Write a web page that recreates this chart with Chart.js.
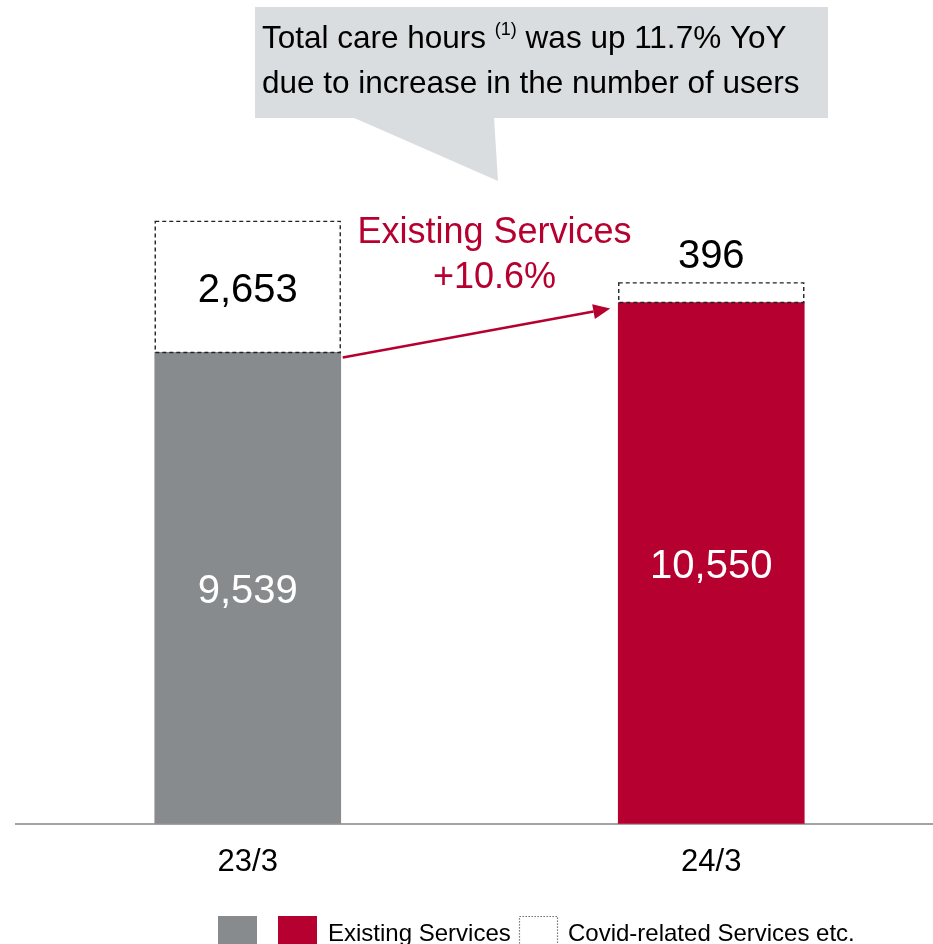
<!DOCTYPE html>
<html><head><meta charset="utf-8">
<script src="https://cdn.jsdelivr.net/npm/chart.js@4.4.1/dist/chart.umd.min.js"></script>
<style>
html,body{margin:0;padding:0;overflow:hidden;background:#fff;width:933px;height:944px}
#wrap{position:relative;width:950px;height:944px}
</style></head><body>
<div id="wrap"><canvas id="c" width="950" height="944"></canvas></div>
<script>
// ---- data ----
const categories = ['23/3', '24/3'];
const existingValues = [9539, 10550];
const covidValues = [2653, 396];
const seriesNames = ['Existing Services', 'Covid-related Services etc.'];
const growthText = ['Existing Services', '+10.6%'];
const calloutLine1 = ['Total care hours ', '(1)', ' was up 11.7% YoY'];
const calloutLine2 = 'due to increase in the number of users';

// ---- styles ----
const FONT = '"Liberation Sans", Arial, Helvetica, sans-serif';
const GRAY = '#888b8d';
const RED = '#b60030';
const CALLOUT = '#dadddf';

function fmt(v) { return v.toLocaleString('en-US'); }

const decor = {
  id: 'decor',
  afterDatasetsDraw(chart) {
    const ctx = chart.ctx;
    const m0 = chart.getDatasetMeta(0).data;
    const m1 = chart.getDatasetMeta(1).data;
    ctx.save();
    // dashed covid boxes
    ctx.strokeStyle = '#222';
    ctx.lineWidth = 1.4;
    ctx.setLineDash([4, 3]);
    m1.forEach(el => {
      const l = el.x - el.width / 2, t = el.y, h = el.base - el.y;
      ctx.strokeRect(l + 0.5, t, el.width - 1, h);
    });
    ctx.setLineDash([]);
    // data labels
    ctx.textAlign = 'center';
    ctx.textBaseline = 'alphabetic';
    ctx.font = '40px ' + FONT;
    m0.forEach((el, i) => {
      ctx.fillStyle = '#fff';
      ctx.fillText(fmt(existingValues[i]), el.x, (el.y + el.base) / 2 + 15);
    });
    m1.forEach((el, i) => {
      ctx.fillStyle = '#000';
      const h = el.base - el.y;
      if (h > 60) ctx.fillText(fmt(covidValues[i]), el.x, (el.y + el.base) / 2 + 15);
      else ctx.fillText(fmt(covidValues[i]), el.x, el.y - 15);
    });
    // arrow
    const a = m0[0], b = m0[1];
    const sx = a.x + a.width / 2 + 2, sy = a.y + 5;
    const ex = b.x - b.width / 2 - 8, ey = b.y + 6;
    const ang = Math.atan2(ey - sy, ex - sx);
    const hl = 17, hw = 7.5;
    const bx = ex - hl * Math.cos(ang), by = ey - hl * Math.sin(ang);
    ctx.strokeStyle = RED; ctx.fillStyle = RED; ctx.lineWidth = 2.5;
    ctx.beginPath(); ctx.moveTo(sx, sy); ctx.lineTo(bx, by); ctx.stroke();
    ctx.beginPath();
    ctx.moveTo(ex, ey);
    ctx.lineTo(bx + hw * Math.sin(ang), by - hw * Math.cos(ang));
    ctx.lineTo(bx - hw * Math.sin(ang), by + hw * Math.cos(ang));
    ctx.closePath(); ctx.fill();
    // growth text
    ctx.font = '36px ' + FONT;
    ctx.fillStyle = RED;
    const gx = (a.x + b.x) / 2 + 15;
    ctx.fillText(growthText[0], gx, 243);
    ctx.fillText(growthText[1], gx, 288);
    // callout
    ctx.fillStyle = CALLOUT;
    ctx.fillRect(255, 7, 573, 111);
    ctx.beginPath();
    ctx.moveTo(352, 117); ctx.lineTo(494, 117); ctx.lineTo(498, 181); ctx.closePath();
    ctx.fill();
    ctx.fillStyle = '#000';
    ctx.textAlign = 'left';
    let x = 262;
    ctx.font = '31.5px ' + FONT;
    ctx.fillText(calloutLine1[0], x, 48);
    x += ctx.measureText(calloutLine1[0]).width;
    ctx.font = '18px ' + FONT;
    ctx.fillText(calloutLine1[1], x, 35);
    x += ctx.measureText(calloutLine1[1]).width;
    ctx.font = '31.5px ' + FONT;
    ctx.fillText(calloutLine1[2], x, 48);
    ctx.fillText(calloutLine2, 262, 93);
    // legend
    ctx.fillStyle = GRAY; ctx.fillRect(218, 916, 39, 40);
    ctx.fillStyle = RED; ctx.fillRect(278, 916, 39, 40);
    ctx.strokeStyle = '#555'; ctx.lineWidth = 1.2; ctx.setLineDash([1.3, 1.7]);
    ctx.strokeRect(519.5, 916.5, 38, 40);
    ctx.setLineDash([]);
    ctx.fillStyle = '#000';
    ctx.font = '24px ' + FONT;
    ctx.fillText(seriesNames[0], 328, 941);
    ctx.fillText(seriesNames[1], 568, 941);
    ctx.restore();
  }
};

new Chart(document.getElementById('c'), {
  type: 'bar',
  data: {
    labels: categories,
    datasets: [
      { label: seriesNames[0], data: existingValues, backgroundColor: [GRAY, RED], borderWidth: 0, barThickness: 186 },
      { label: seriesNames[1], data: covidValues, backgroundColor: 'rgba(255,255,255,0)', borderWidth: 0, barThickness: 186 }
    ]
  },
  options: {
    responsive: false,
    animation: false,
    devicePixelRatio: 1,
    layout: { padding: { top: 132, bottom: 43, left: 16, right: 7 } },
    plugins: { legend: { display: false }, tooltip: { enabled: false } },
    scales: {
      x: {
        stacked: true,
        grid: { display: false, drawTicks: false },
        border: { display: true, color: '#a3a3a3', width: 2 },
        ticks: { color: '#000', font: { family: FONT, size: 31 }, padding: 20 }
      },
      y: { stacked: true, display: false, min: 0, max: 14000 }
    }
  },
  plugins: [decor]
});
</script>
</body></html>
